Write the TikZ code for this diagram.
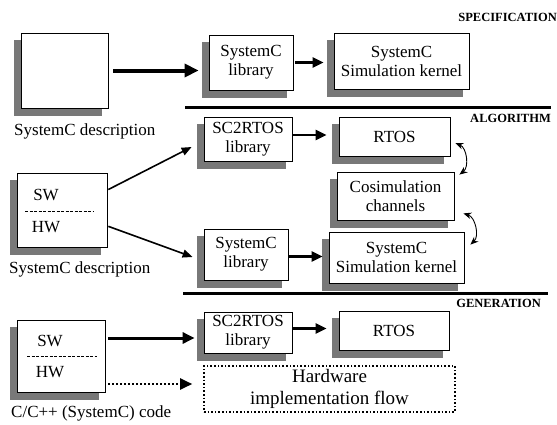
\documentclass[tikz,border=0pt]{standalone}
\usepackage{fontspec}
\setmainfont{Liberation Serif}
\usetikzlibrary{arrows.meta}
\definecolor{shadowgray}{RGB}{120,120,120}

\begin{document}
\begin{tikzpicture}[
    x=1pt, y=-1pt,
    block/.style={
        draw,
        fill=white,
        line width=0.8pt,
        align=center,
        inner sep=0pt,
        font=\fontsize{17}{19}\selectfont
    },
    shadowbox/.style={fill=shadowgray, draw=shadowgray, inner sep=0pt},
    desc/.style={font=\fontsize{17}{19}\selectfont, inner sep=0pt},
    stage/.style={font=\fontsize{12.5}{14}\selectfont\bfseries, inner sep=0pt, anchor=east},
    flow/.style={line width=2.6pt, -{Triangle[length=11pt,width=10pt]}},
    link/.style={line width=1.6pt, -{Triangle[length=10pt,width=8pt]}},
    sync/.style={line width=0.9pt, {Stealth[length=8pt,width=6.5pt]}-{Stealth[length=8pt,width=6.5pt]}},
    split/.style={line width=0.5pt, dash pattern=on 3pt off 1.5pt}
]
\useasboundingbox (0,0) rectangle (557,424);

% Shadows (centre x / centre y / width / height of each block)
\foreach \sx/\sy/\sw/\sh [count=\si] in {64.5/70.5/87/75, 251/62.5/84/55, 401.5/61/135/56,
        62/210/90/74, 248/139/88/44, 394.5/136.5/111/39, 395.5/196/117/48,
        246/254.5/84/51, 396.5/257.5/135/51, 61/356/88/72, 248/332.5/88/41, 394/330.5/110/39}
    \node[shadowbox, minimum width=\sw pt, minimum height=\sh pt] (shade\si) at (\sx-7,\sy+7) {};

% Specification
\node[block, minimum width=87pt, minimum height=75pt] (spec) at (64.5,70.5) {};
\node[block, minimum width=84pt, minimum height=55pt] (sclibA) at (251,62.5) {SystemC\\library};
\node[block, minimum width=135pt, minimum height=56pt] (kernA) at (401.5,61) {SystemC\\Simulation kernel};
\node[desc, anchor=west] (descA) at (14,131) {SystemC description};
\node[stage] (specL) at (557,17) {SPECIFICATION};

% Algorithm
\node[block, minimum width=90pt, minimum height=74pt] (swhwA) at (62,210) {};
\node[desc] (swA) at (46,195) {SW};
\node[desc] (hwA) at (46,227) {HW};
\draw[split] (25,211) -- (93,211);
\node[desc, anchor=west] (descB) at (9,269) {SystemC description};
\node[block, minimum width=88pt, minimum height=44pt] (rtlibA) at (248,139) {SC2RTOS\\library};
\node[block, minimum width=111pt, minimum height=39pt] (rtosA) at (394.5,136.5) {RTOS};
\node[block, minimum width=117pt, minimum height=48pt] (cosim) at (395.5,196) {Cosimulation\\channels};
\node[block, minimum width=84pt, minimum height=51pt] (sclibB) at (246,254.5) {SystemC\\library};
\node[block, minimum width=135pt, minimum height=51pt] (kernB) at (396.5,257.5) {SystemC\\Simulation kernel};
\node[stage] (algoL) at (551,118) {ALGORITHM};

% Generation
\node[block, minimum width=88pt, minimum height=72pt] (swhwB) at (61,356) {};
\node[desc] (swB) at (50,341) {SW};
\node[desc] (hwB) at (50,372) {HW};
\draw[split] (27,356) -- (97,356);
\node[desc, anchor=west] (descC) at (11,413) {C/C++ (SystemC) code};
\node[block, minimum width=88pt, minimum height=41pt] (rtlibB) at (248,332.5) {SC2RTOS\\library};
\node[block, minimum width=110pt, minimum height=39pt] (rtosB) at (394,330.5) {RTOS};
\node[draw, dotted, line width=1.6pt, minimum width=251pt, minimum height=46pt,
      align=center, inner sep=0pt, font=\fontsize{19}{22}\selectfont] (hwflow) at (329.5,389) {Hardware\\implementation flow};
\node[stage] (geneL) at (541,303) {GENERATION};

% Separators
\draw[line width=3pt] (185,107) -- (551,107);
\draw[line width=3pt] (183,293) -- (548,293);

% Flow arrows
\draw[line width=4pt, -{Triangle[length=14pt,width=13pt]}, shorten <=5pt, shorten >=10pt]
    (spec.east) -- (spec.east -| sclibA.west);
\draw[flow, shorten <=2pt, shorten >=10pt] (sclibA.east) -- (sclibA.east -| kernA.west);
\draw[flow, shorten >=12pt] ([yshift=4pt]rtlibA.east) -- ([yshift=4pt]rtlibA.east -| rtosA.west);
\draw[flow, shorten >=6pt] ([yshift=-2pt]sclibB.east) -- ([yshift=-2pt]sclibB.east -| kernB.west);
\draw[flow, shorten >=12pt] ([yshift=4pt]rtlibB.east) -- ([yshift=4pt]rtlibB.east -| rtosB.west);
\draw[link, shorten <=1pt] ([yshift=20pt]swhwA.east) -- ([xshift=-12pt,yshift=-8pt]rtlibA.west);
\draw[link, shorten <=1pt] ([yshift=-16pt]swhwA.east) -- ([xshift=-11pt,yshift=-2.5pt]sclibB.west);
\draw[line width=3pt, -{Triangle[length=12pt,width=11pt]}, shorten <=3pt, shorten >=9pt]
    ([yshift=18pt]swhwB.east) -- ([yshift=18pt]swhwB.east -| rtlibB.west);
\draw[line width=2pt, dotted, -{Triangle[length=12pt,width=11pt]}, shorten <=3pt, shorten >=11pt]
    ([yshift=-28pt]swhwB.east) -- ([yshift=-28pt]swhwB.east -| hwflow.west);

% Cosimulation links
\draw[sync] ([xshift=5pt,yshift=-6.5pt]rtosA.east) to[bend left=60] ([xshift=5pt,yshift=-3pt]cosim.north east);
\draw[sync] ([xshift=9pt,yshift=7pt]cosim.south east) to[bend left=60] ([xshift=6pt,yshift=-13pt]kernB.north east);

\end{tikzpicture}
\end{document}
